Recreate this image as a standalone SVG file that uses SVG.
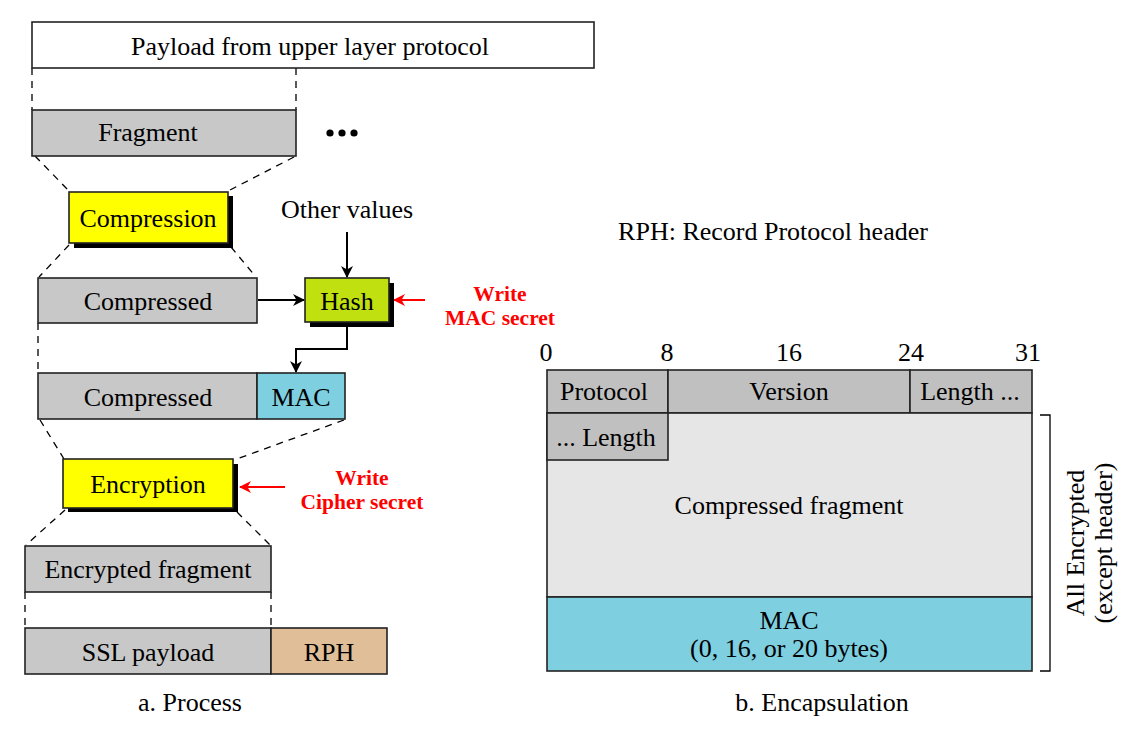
<svg xmlns="http://www.w3.org/2000/svg" width="1142" height="735" viewBox="0 0 1142 735">
<defs>
<style>
text{font-family:"Liberation Serif","Times New Roman",serif;font-size:26px;fill:#000;text-anchor:middle}
.red{fill:#ff0000;font-weight:bold;font-size:21.5px}
.box{stroke:#222;stroke-width:1.6}
.gray{fill:#c8c8c8}
.dash{stroke:#000;stroke-width:1.3;stroke-dasharray:7 6;fill:none}
.line{stroke:#000;stroke-width:2;fill:none}
.redline{stroke:#ff0000;stroke-width:2;fill:none}
</style>
<marker id="ah" markerWidth="12" markerHeight="12" refX="11" refY="6" orient="auto" markerUnits="userSpaceOnUse">
<path d="M0,0 L12,6 L0,12 L3.5,6 Z" fill="#000"/>
</marker>
<marker id="ahr" markerWidth="12" markerHeight="12" refX="11" refY="6" orient="auto" markerUnits="userSpaceOnUse">
<path d="M0,0 L12,6 L0,12 L3.5,6 Z" fill="#ff0000"/>
</marker>
</defs>
<rect width="1142" height="735" fill="#fff"/>

<g id="connectors">
<path class="dash" d="M32,68 V110 M296,68 V110"/>
<path class="dash" d="M35,156 L69,191 M294,157 L230,190"/>
<path class="dash" d="M69,245 L39,277 M231,247 L256,277"/>
<path class="dash" d="M38,323 V373"/>
<path class="dash" d="M40,420 L64,459 M344,420 L234,460"/>
<path class="dash" d="M65,510 L26,545 M237,512 L270,545"/>
<path class="dash" d="M25,592 V628 M271,592 V628"/>
<path class="line" d="M258,300 H304" marker-end="url(#ah)"/>
<path class="line" d="M347,232 V277" marker-end="url(#ah)"/>
<path class="line" d="M347,323 V349 H296 V372" marker-end="url(#ah)"/>
<path class="redline" d="M425,300 H394" marker-end="url(#ahr)"/>
<path class="redline" d="M285,487 H240" marker-end="url(#ahr)"/>
<path d="M1040,415 H1050 V671 H1040" fill="none" stroke="#000" stroke-width="1.3"/>
</g>

<g id="payload">
<rect class="box" x="32" y="22" width="562" height="46" fill="#fff"/>
<text x="310" y="55">Payload from upper layer protocol</text>
</g>
<g id="fragment">
<rect class="box gray" x="32" y="110" width="264" height="46"/>
<text x="148" y="141">Fragment</text>
<circle cx="330" cy="133" r="3.6"/><circle cx="342" cy="133" r="3.6"/><circle cx="354" cy="133" r="3.6"/>
</g>
<g id="compression">
<rect x="74" y="196" width="159" height="52" fill="#000"/>
<rect class="box" x="69" y="192" width="159" height="51" fill="#ffff00"/>
<text x="148" y="227">Compression</text>
</g>
<g id="other-values">
<text x="347" y="218">Other values</text>
</g>
<g id="compressed1">
<rect class="box gray" x="38" y="278" width="219" height="45"/>
<text x="148" y="310">Compressed</text>
</g>
<g id="hash">
<rect x="310" y="283" width="84" height="44" fill="#000"/>
<rect class="box" x="305" y="278" width="84" height="44" fill="#c0e010"/>
<text x="347" y="310">Hash</text>
</g>
<g id="write-mac">
<text class="red" x="500" y="301">Write</text>
<text class="red" x="500" y="325">MAC secret</text>
</g>
<g id="compressed-mac">
<rect class="box gray" x="38" y="373" width="219" height="46"/>
<text x="148" y="406">Compressed</text>
<rect class="box" x="257" y="373" width="88" height="46" fill="#7ecfe0"/>
<text x="301" y="406">MAC</text>
</g>
<g id="encryption">
<rect x="68" y="464" width="170" height="48" fill="#000"/>
<rect class="box" x="63" y="459" width="170" height="49" fill="#ffff00"/>
<text x="148" y="493">Encryption</text>
</g>
<g id="write-cipher">
<text class="red" x="362" y="485">Write</text>
<text class="red" x="362" y="509">Cipher secret</text>
</g>
<g id="encrypted-fragment">
<rect class="box gray" x="25" y="546" width="246" height="46"/>
<text x="148" y="578">Encrypted fragment</text>
</g>
<g id="ssl-payload">
<rect class="box gray" x="25" y="628" width="246" height="46"/>
<text x="148" y="661">SSL payload</text>
<rect class="box" x="271" y="628" width="116" height="46" fill="#e0bf98"/>
<text x="329" y="661">RPH</text>
</g>
<text x="190" y="711">a. Process</text>

<g id="rph-note">
<text x="773" y="240">RPH: Record Protocol header</text>
</g>
<g id="bit-numbers">
<text x="546" y="361">0</text>
<text x="667" y="361">8</text>
<text x="789" y="361">16</text>
<text x="911" y="361">24</text>
<text x="1028" y="361">31</text>
</g>
<g id="header">
<rect class="box" x="547" y="370" width="121" height="43" fill="#c0c0c0"/>
<text x="604" y="400">Protocol</text>
<rect class="box" x="668" y="370" width="242" height="43" fill="#c0c0c0"/>
<text x="789" y="400">Version</text>
<rect class="box" x="910" y="370" width="122" height="43" fill="#c0c0c0"/>
<text x="970" y="400">Length ...</text>
</g>
<g id="body">
<rect class="box" x="547" y="413" width="485" height="184" fill="#e6e6e6"/>
<rect class="box" x="547" y="413" width="121" height="47" fill="#c0c0c0"/>
<text x="606" y="446">... Length</text>
<text x="789" y="514">Compressed fragment</text>
</g>
<g id="mac-field">
<rect class="box" x="547" y="597" width="485" height="74" fill="#7ecfe0"/>
<text x="789" y="629">MAC</text>
<text x="789" y="657">(0, 16, or 20 bytes)</text>
</g>
<g id="all-encrypted">
<text transform="translate(1084,543) rotate(-90)">All Encrypted</text>
<text transform="translate(1112,543) rotate(-90)">(except header)</text>
</g>
<text x="822" y="711">b. Encapsulation</text>
</svg>
